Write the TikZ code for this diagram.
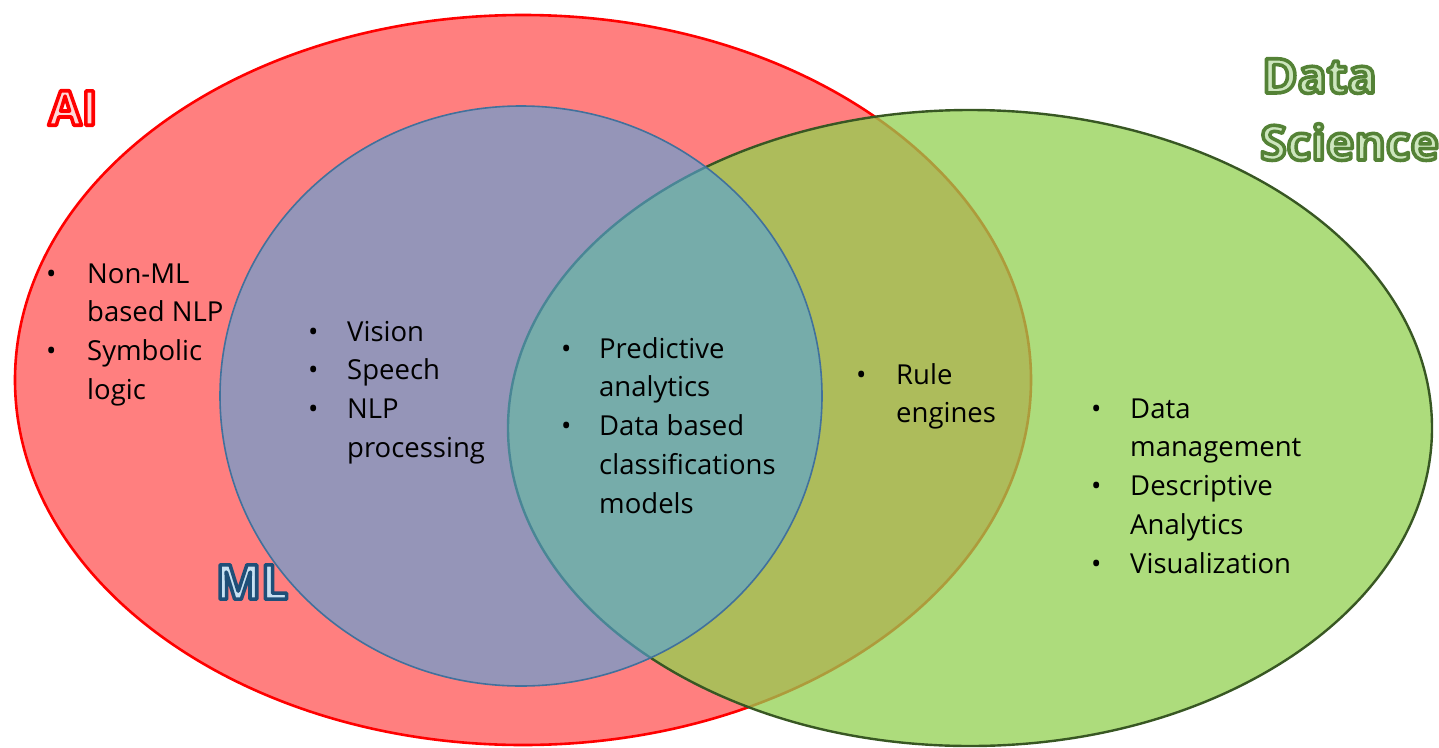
\documentclass[tikz,border=0pt]{standalone}
\usepackage{fontspec}
\setmainfont{Open Sans}
\definecolor{aired}{RGB}{255,0,0}
\definecolor{aifill}{RGB}{255,215,215}
\definecolor{dsgreen}{RGB}{146,208,80}
\definecolor{dsline}{RGB}{56,87,35}
\definecolor{dstfill}{RGB}{205,230,190}
\definecolor{mlblue}{RGB}{85,163,220}
\definecolor{mlline}{RGB}{65,113,156}
\definecolor{mltfill}{RGB}{200,225,242}
\newcommand{\blt}{\textbullet}
% outlined lettering: fill colour #2, stroke colour #1 (r g b), text #3
\newcommand{\outlined}[3]{\textcolor{#2}{\special{pdf:literal direct 2 Tr 3.6 w 1 j #1 RG}#3\special{pdf:literal direct 0 Tr}}}
\tikzset{
  bulletlist/.style={anchor=north west, inner sep=0pt,
    font=\fontsize{27.5}{38.7}\selectfont},
  title/.style={inner sep=0pt, font=\fontsize{48}{66}\selectfont\bfseries}
}
\begin{document}
\begin{tikzpicture}[x=1pt,y=-1pt]
\useasboundingbox (0,0) rectangle (1439,747);
% AI set
\fill[aired, fill opacity=0.5] (523,380) ellipse [x radius=508pt, y radius=365pt];
\draw[aired, line width=2.6pt] (523,380) ellipse [x radius=508pt, y radius=365pt];
% Data Science set
\fill[dsgreen, fill opacity=0.75] (970,428) ellipse [x radius=462pt, y radius=318pt];
\draw[dsline, line width=2.4pt] (970,428) ellipse [x radius=462pt, y radius=318pt];
% ML set
\fill[mlblue, fill opacity=0.62] (521,396) ellipse [x radius=301pt, y radius=290pt];
\draw[mlline, line width=1.6pt] (521,396) ellipse [x radius=301pt, y radius=290pt];

% set titles
\node[title] (tai) at (73,108) {\outlined{1 0 0}{aifill}{AI}};
\node[title] (tml) at (252,582) {\outlined{0.12 0.31 0.47}{mltfill}{ML}};
\node[title, anchor=base west] (tdata) at (1262,93) {\outlined{0.33 0.51 0.21}{dstfill}{Data}};
\node[title, anchor=base west] (tsci) at (1260,160) {\outlined{0.33 0.51 0.21}{dstfill}{Science}};

% item lists
\node[bulletlist] (lai) at (46,256) {\begin{tabular}{@{}p{41pt}@{}l@{}}
\blt & Non-ML\\ & based NLP\\ \blt & Symbolic\\ & logic\end{tabular}};
\node[bulletlist] (lml) at (308,314) {\begin{tabular}{@{}p{39pt}@{}l@{}}
\blt & Vision\\ \blt & Speech\\ \blt & NLP\\ & processing\end{tabular}};
\node[bulletlist] (lmid) at (561,331) {\begin{tabular}{@{}p{38pt}@{}l@{}}
\blt & Predictive\\ & analytics\\ \blt & Data based\\ & classifications\\ & models\end{tabular}};
\node[bulletlist] (lrule) at (856,357) {\begin{tabular}{@{}p{40pt}@{}l@{}}
\blt & Rule\\ & engines\end{tabular}};
\node[bulletlist] (lds) at (1091,391) {\begin{tabular}{@{}p{39pt}@{}l@{}}
\blt & Data\\ & management\\ \blt & Descriptive\\ & Analytics\\ \blt & Visualization\end{tabular}};
\end{tikzpicture}
\end{document}
